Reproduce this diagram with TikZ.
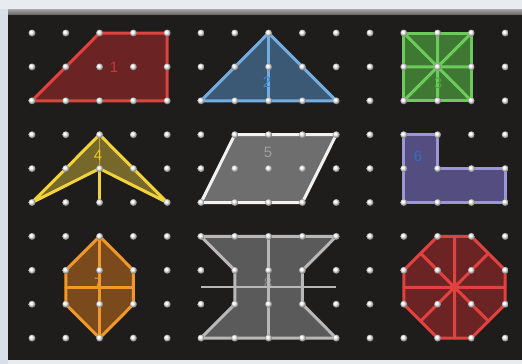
\documentclass[tikz,border=0pt]{standalone}
\usepackage{fontspec}
\setmainfont{Liberation Sans}
\usetikzlibrary{calc}
\definecolor{outerbg}{HTML}{E8ECF0}
\definecolor{leftstrip}{HTML}{D8DFE8}
\definecolor{board}{HTML}{1F1D1C}
\definecolor{bevel}{HTML}{6E6C6A}
\definecolor{redS}{HTML}{E2423F}\definecolor{redF}{HTML}{6C2323}\definecolor{redL}{HTML}{C8383A}
\definecolor{bluS}{HTML}{74AEE0}\definecolor{bluF}{HTML}{3B5875}\definecolor{bluL}{HTML}{3D86D0}
\definecolor{grnS}{HTML}{6CCB5A}\definecolor{grnF}{HTML}{3E7832}\definecolor{grnL}{HTML}{4AA83C}
\definecolor{yelS}{HTML}{F2D43A}\definecolor{yelF}{HTML}{76672A}\definecolor{yelL}{HTML}{F0CC2A}
\definecolor{whtS}{HTML}{F2F2F2}\definecolor{whtF}{HTML}{6E6E6E}\definecolor{whtL}{HTML}{A0A0A0}
\definecolor{purS}{HTML}{9C98D8}\definecolor{purF}{HTML}{544E80}\definecolor{purL}{HTML}{2F6EC8}
\definecolor{orgS}{HTML}{F0982A}\definecolor{orgF}{HTML}{7A4A1C}\definecolor{orgL}{HTML}{E08A20}
\definecolor{gryS}{HTML}{B8B8B8}\definecolor{gryF}{HTML}{5A5A5A}\definecolor{gryL}{HTML}{8A8A8A}
\tikzset{
  band/.style={line width=3pt, line join=round, line cap=round},
  shapelabel/.style={font=\fontsize{15}{15}\selectfont, inner sep=0pt},
  peg/.style={ball color=white}
}
\begin{document}
\begin{tikzpicture}[x=1pt,y=-1pt]
\useasboundingbox (0,0) rectangle (522,364);
\fill[outerbg] (0,0) rectangle (522,364);
\fill[leftstrip] (0,9) rectangle (8,364);
\fill[board] (8,9) rectangle (522,360);
\shade[top color=bevel!60!white, bottom color=bevel] (8,9) rectangle (522,14);
% grid coordinates
\foreach \c in {0,...,14}{
  \foreach \r in {0,...,9}{
    \coordinate (p-\c-\r) at ({32+33.8*\c},{33+33.9*\r});
  }
}
% 1 red trapezoid
\filldraw[band, draw=redS, fill=redF] (p-2-0) -- (p-4-0) -- (p-4-2) -- (p-0-2) -- cycle;
\node[shapelabel, text=redL] (l1) at (114,67) {1};
% 2 blue triangle
\filldraw[band, draw=bluS, fill=bluF] (p-7-0) -- (p-9-2) -- (p-5-2) -- cycle;
\draw[band, bluS] (p-7-0) -- (p-7-2);
\node[shapelabel, text=bluL] (l2) at (267,82) {2};
% 3 green square
\filldraw[band, draw=grnS, fill=grnF] (p-11-0) rectangle (p-13-2);
\draw[band, grnS] (p-12-0) -- (p-12-2) (p-11-1) -- (p-13-1) (p-11-0) -- (p-13-2) (p-13-0) -- (p-11-2);
\node[shapelabel, text=grnL] (l3) at (438,83) {3};
% 4 yellow arrowhead
\filldraw[band, draw=yelS, fill=yelF] (p-2-3) -- (p-4-5) -- (p-2-4) -- (p-0-5) -- cycle;
\draw[line width=1pt, yelS!60!yelF] (p-2-3) -- (p-2-4);
\draw[band, yelS] (p-2-4) -- (p-2-5);
\node[shapelabel, text=yelL] (l4) at (98,155) {4};
% 5 white parallelogram
\filldraw[band, draw=whtS, fill=whtF] (p-6-3) -- (p-9-3) -- (p-8-5) -- (p-5-5) -- cycle;
\node[shapelabel, text=whtL] (l5) at (268,152) {5};
% 6 purple L
\filldraw[band, draw=purS, fill=purF] (p-11-3) -- (p-12-3) -- (p-12-4) -- (p-14-4) -- (p-14-5) -- (p-11-5) -- cycle;
\node[shapelabel, text=purL] (l6) at (418,156) {6};
% 7 orange hexagon
\filldraw[band, draw=orgS, fill=orgF] (p-2-6) -- (p-3-7) -- (p-3-8) -- (p-2-9) -- (p-1-8) -- (p-1-7) -- cycle;
\node[shapelabel, text=orgL] (l7) at (98,283) {7};
\coordinate (h7a) at ($(p-1-7)!0.5!(p-1-8)$);
\coordinate (h7b) at ($(p-3-7)!0.5!(p-3-8)$);
\draw[band, orgS] (p-2-6) -- (p-2-9) (h7a) -- (h7b);
% 8 gray hourglass
\filldraw[band, draw=gryS, fill=gryF] (p-5-6) -- (p-9-6) -- (p-8-7) -- (p-8-8) -- (p-9-9) -- (p-5-9) -- (p-6-8) -- (p-6-7) -- cycle;
\node[shapelabel, text=gryL] (l8) at (268,283) {8};
\coordinate (h8a) at ($(p-5-7)!0.5!(p-5-8)$);
\coordinate (h8b) at ($(p-9-7)!0.5!(p-9-8)$);
\draw[band, gryS] (p-7-6) -- (p-7-9);
\draw[line width=2pt, gryS] (h8a) -- (h8b);
% 9 red octagon
\filldraw[band, draw=redS, fill=redF] (p-12-6) -- (p-13-6) -- (p-14-7) -- (p-14-8) -- (p-13-9) -- (p-12-9) -- (p-11-8) -- (p-11-7) -- cycle;
\coordinate (o-t) at ($(p-12-6)!0.5!(p-13-6)$);
\coordinate (o-b) at ($(p-12-9)!0.5!(p-13-9)$);
\coordinate (o-l) at ($(p-11-7)!0.5!(p-11-8)$);
\coordinate (o-r) at ($(p-14-7)!0.5!(p-14-8)$);
\coordinate (o-tr) at ($(p-13-6)!0.5!(p-14-7)$);
\coordinate (o-bl) at ($(p-11-8)!0.5!(p-12-9)$);
\coordinate (o-tl) at ($(p-11-7)!0.5!(p-12-6)$);
\coordinate (o-br) at ($(p-13-9)!0.5!(p-14-8)$);
\draw[band, redS] (o-t) -- (o-b) (o-l) -- (o-r) (o-tr) -- (o-bl) (o-tl) -- (o-br);
% pegs
\foreach \c in {0,...,14}{
  \foreach \r in {0,...,9}{
    \shade[peg] (p-\c-\r) circle (3.5);
  }
}
\end{tikzpicture}
\end{document}
